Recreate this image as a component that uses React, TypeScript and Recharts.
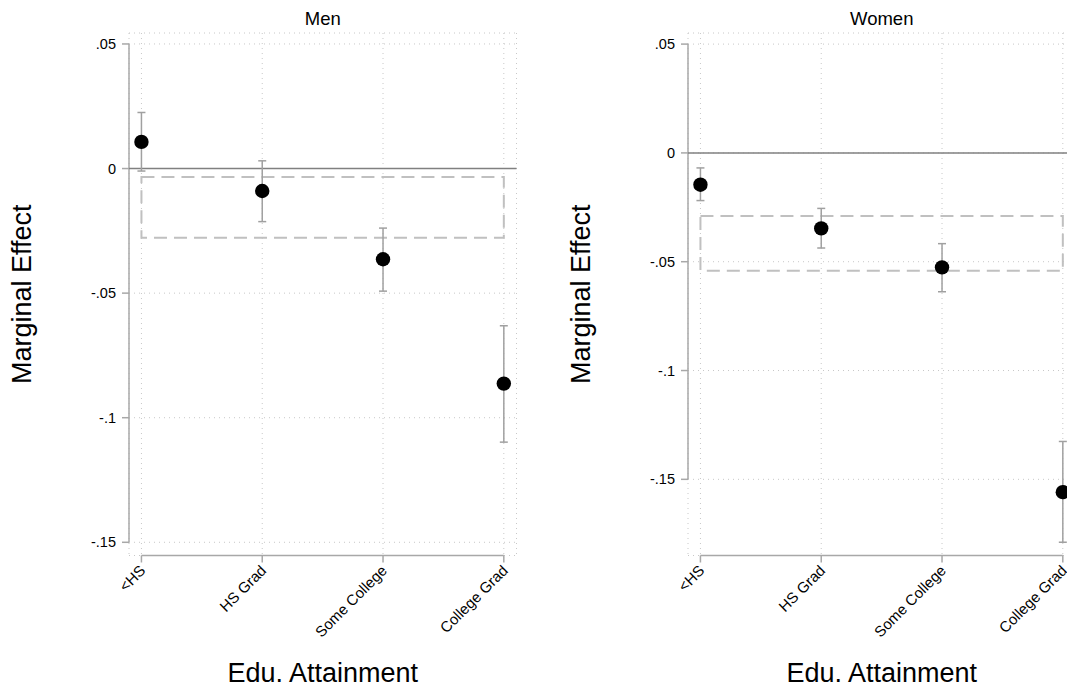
import React from 'react';
import {
  ComposedChart,
  Scatter,
  ErrorBar,
  XAxis,
  YAxis,
  CartesianGrid,
  ReferenceLine,
  ReferenceArea,
  Label,
} from 'recharts';

const categories = ['<HS', 'HS Grad', 'Some College', 'College Grad'];
const yTicks = [0.05, 0, -0.05, -0.1, -0.15];

// Men: point estimates and 95% CI
const menEffect = [0.0107, -0.009, -0.0364, -0.0863];
const menLower = [-0.001, -0.0213, -0.0492, -0.1098];
const menUpper = [0.0225, 0.0031, -0.0239, -0.0631];
const menBand = [-0.0034, -0.0278]; // dashed box: top, bottom

// Women
const womenEffect = [-0.0146, -0.0347, -0.0526, -0.1559];
const womenLower = [-0.0219, -0.0437, -0.0638, -0.1789];
const womenUpper = [-0.0069, -0.0255, -0.0417, -0.1326];
const womenBand = [-0.029, -0.0541];

const FONT = '"Liberation Sans", Arial, Helvetica, sans-serif';
const AXIS = '#a8a8a8';
const GRID = '#c8c8c8';
const X_DOMAIN: [number, number] = [-0.103, 3.105];

const fmtY = (v: number) => (v === 0 ? '0' : String(v).replace('0.', '.'));

function XTick({ x, y, payload }: any) {
  const ax = x + 5;
  const ay = y + 9;
  return (
    <text
      x={ax}
      y={ay}
      transform={`rotate(-45, ${ax}, ${ay})`}
      textAnchor='end'
      fontSize={15}
      fontFamily={FONT}
      fill='#000'
    >
      {categories[payload.value]}
    </text>
  );
}

const Dot = (props: any) => (
  <circle cx={props.cx} cy={props.cy} r={7.2} fill='#000' />
);

interface PanelProps {
  title: string;
  effect: number[];
  lower: number[];
  upper: number[];
  band: number[];
  yDomain: [number, number];
  left: number;
}

function Panel({ title, effect, lower, upper, band, yDomain, left }: PanelProps) {
  const rows = effect.map((v, i) => ({
    x: i,
    y: v,
    err: [v - lower[i], upper[i] - v],
  }));

  return (
    <div style={{ position: 'absolute', left, top: 0, width: 559, height: 690 }}>
      <div
        style={{
          position: 'absolute',
          left: 129,
          width: 387.5,
          top: 9,
          textAlign: 'center',
          fontSize: 18.5,
          lineHeight: '19px',
          fontFamily: FONT,
          color: '#000',
        }}
      >
        {title}
      </div>
      <ComposedChart
        width={559}
        height={690}
        data={rows}
        margin={{ top: 33, right: 42.5, bottom: 34.5, left: 0 }}
      >
        <CartesianGrid stroke={GRID} strokeDasharray='1 4' />
        <XAxis
          type='number'
          dataKey='x'
          domain={X_DOMAIN}
          ticks={[0, 1, 2, 3]}
          allowDataOverflow
          interval={0}
          axisLine={false}
          tickLine={{ stroke: AXIS, strokeWidth: 1.5 }}
          tickSize={7}
          tickMargin={0}
          tick={<XTick />}
          height={100}
        >
          <Label
            value='Edu. Attainment'
            position='center'
            dy={67}
            style={{ fontSize: 27, fontFamily: FONT, fill: '#000' }}
          />
        </XAxis>
        <YAxis
          type='number'
          domain={yDomain}
          ticks={yTicks}
          allowDataOverflow
          interval={0}
          axisLine={false}
          tickLine={{ stroke: AXIS, strokeWidth: 1.5 }}
          tickSize={7}
          tickMargin={6}
          tickFormatter={fmtY}
          tick={{ fontSize: 14.5, fill: '#000', fontFamily: FONT }}
          width={129}
        >
          <Label
            value='Marginal Effect'
            angle={-90}
            position='center'
            dx={-43.5}
            style={{ fontSize: 27, fontFamily: FONT, fill: '#000' }}
          />
        </YAxis>
        <ReferenceLine
          segment={[
            { x: X_DOMAIN[0], y: 0.05 },
            { x: X_DOMAIN[0], y: -0.15 },
          ]}
          stroke={AXIS}
          strokeWidth={1.5}
          ifOverflow='visible'
        />
        <ReferenceLine
          segment={[
            { x: 0, y: yDomain[0] },
            { x: 3, y: yDomain[0] },
          ]}
          stroke={AXIS}
          strokeWidth={1.5}
          ifOverflow='visible'
        />
        <ReferenceLine y={0} stroke='#808080' strokeWidth={1.5} />
        <ReferenceArea
          x1={0}
          x2={3}
          y1={band[1]}
          y2={band[0]}
          fill='none'
          fillOpacity={0}
          stroke='#c0c0c0'
          strokeWidth={2}
          strokeDasharray='13 7'
        />
        <Scatter dataKey='y' fill='#000' shape={Dot} isAnimationActive={false}>
          <ErrorBar
            dataKey='err'
            direction='y'
            width={4}
            stroke='#a0a0a0'
            strokeWidth={1.5}
            isAnimationActive={false}
          />
        </Scatter>
      </ComposedChart>
    </div>
  );
}

export default function App() {
  return (
    <div
      style={{
        position: 'fixed',
        left: 0,
        top: 0,
        width: 1067,
        height: 690,
        overflow: 'hidden',
        background: '#fff',
      }}
    >
      <Panel
        title='Men'
        effect={menEffect}
        lower={menLower}
        upper={menUpper}
        band={menBand}
        yDomain={[-0.1553, 0.0544]}
        left={0}
      />
      <Panel
        title='Women'
        effect={womenEffect}
        lower={womenLower}
        upper={womenUpper}
        band={womenBand}
        yDomain={[-0.185, 0.0551]}
        left={559}
      />
    </div>
  );
}
